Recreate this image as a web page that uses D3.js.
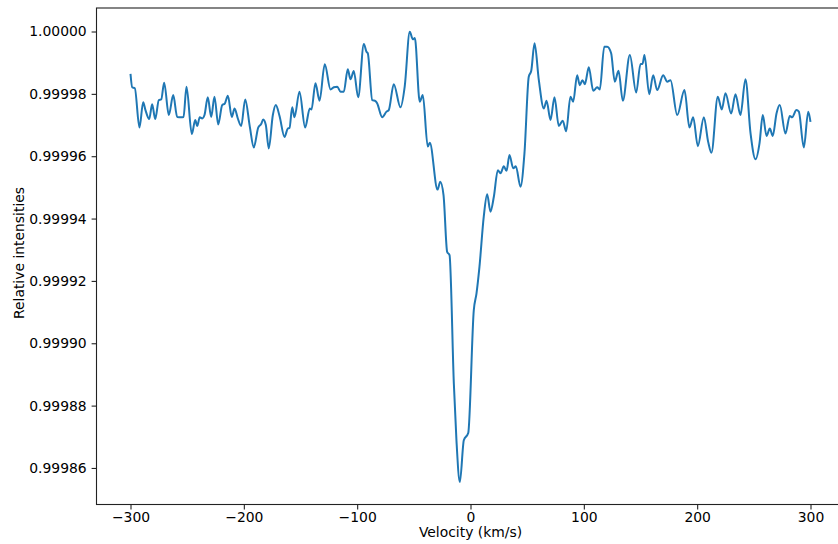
<!DOCTYPE html>
<html>
<head>
<meta charset="utf-8">
<script src="https://cdn.jsdelivr.net/npm/d3@7"></script>
<style>
  html, body { margin: 0; padding: 0; background: #fff; }
  svg { display: block; }
  text { font-family: "DejaVu Sans", sans-serif; }
</style>
</head>
<body>
<svg id="chart" width="838" height="544"></svg>
<script>
const velocity = [
  -300, -298.5, -296.2, -292.1, -288.8, -286.8, -283.5, -280.9, -278.2, -275.0,
  -272.9, -270.3, -266.2, -262.3, -258.8, -255.3, -253.2, -250.6, -245.9, -242.9,
  -241.1, -238.9, -236.7, -234.7, -231.8, -228.8, -225.9, -222.6, -219.1, -216.8,
  -214.1, -210.6, -208.2, -205.3, -202.3, -198.8, -194.7, -191.2, -187.3, -184.7,
  -182.9, -180.6, -178.0, -174.4, -171.8, -168.5, -164.1, -161.2, -159.7, -157.3,
  -155.3, -150.9, -145.9, -141.8, -140.3, -136.8, -133.2, -128.6, -123.5, -120.6,
  -117.6, -114.7, -111.8, -108.3, -105.9, -103.0, -99.1, -94.1, -91.8, -90.6,
  -86.7, -83.8, -82.3, -77.9, -74.1, -72.1, -67.7, -61.8, -58.0, -53.6,
  -50.9, -49.1, -44.8, -42.1, -37.7, -35.9, -29.1, -26.7, -23.8, -20.6,
  -18.5, -14.7, -12.4, -9.4, -5.9, -2.0, 2.9, 5.3, 7.9, 11.7,
  14.7, 17.6, 20.6, 24.1, 26.5, 29.4, 31.8, 34.4, 37.7, 40.0,
  44.1, 47.6, 51.4, 53.6, 56.5, 60.3, 64.7, 67.1, 70.6, 74.1,
  77.9, 81.4, 84.4, 88.2, 90.6, 94.1, 96.4, 98.8, 100.9, 104.4,
  108.3, 111.8, 114.1, 118.0, 120.6, 124.1, 127.3, 130.6, 134.4, 140.6,
  146.2, 150.0, 151.8, 153.5, 157.7, 161.2, 164.7, 170.0, 173.6, 176.5,
  182.4, 188.8, 193.2, 196.5, 200.6, 205.9, 209.7, 212.6, 218.2, 221.7,
  225.0, 230.0, 233.8, 238.2, 242.6, 247.1, 251.5, 255.0, 257.9, 261.2,
  264.1, 266.7, 270.0, 272.9, 277.9, 281.7, 283.8, 287.6, 289.7, 294.1,
  298.0, 300.0
];
const intensity = [
  0.9999864, 0.9999821, 0.9999818, 0.9999692, 0.9999773, 0.9999748, 0.9999719, 0.9999767, 0.9999719, 0.9999780,
  0.9999782, 0.9999836, 0.9999732, 0.9999796, 0.9999726, 0.9999725, 0.9999726, 0.9999823, 0.9999671, 0.9999716,
  0.9999697, 0.9999725, 0.9999721, 0.9999732, 0.9999789, 0.9999726, 0.9999791, 0.9999702, 0.9999764, 0.9999769,
  0.9999794, 0.9999726, 0.9999753, 0.9999721, 0.9999697, 0.9999782, 0.9999694, 0.9999628, 0.9999692, 0.9999703,
  0.9999718, 0.9999700, 0.9999625, 0.9999732, 0.9999764, 0.9999729, 0.9999662, 0.9999689, 0.9999691, 0.9999757,
  0.9999725, 0.9999807, 0.9999692, 0.9999753, 0.9999750, 0.9999834, 0.9999778, 0.9999895, 0.9999814, 0.9999821,
  0.9999823, 0.9999807, 0.9999807, 0.9999879, 0.9999847, 0.9999873, 0.9999789, 0.9999960, 0.9999935, 0.9999930,
  0.9999780, 0.9999777, 0.9999769, 0.9999725, 0.9999743, 0.9999748, 0.9999831, 0.9999757, 0.9999825, 0.9999999,
  0.9999975, 0.9999979, 0.9999775, 0.9999796, 0.9999631, 0.9999643, 0.9999493, 0.9999518, 0.9999475, 0.9999293,
  0.9999283, 0.9998871, 0.9998689, 0.9998555, 0.9998689, 0.9998712, 0.9999106, 0.9999160, 0.9999245, 0.9999406,
  0.9999478, 0.9999422, 0.9999470, 0.9999555, 0.9999545, 0.9999568, 0.9999553, 0.9999604, 0.9999561, 0.9999568,
  0.9999502, 0.9999609, 0.9999855, 0.9999874, 0.9999962, 0.9999844, 0.9999753, 0.9999778, 0.9999716, 0.9999789,
  0.9999697, 0.9999714, 0.9999680, 0.9999791, 0.9999775, 0.9999860, 0.9999828, 0.9999844, 0.9999831, 0.9999885,
  0.9999810, 0.9999821, 0.9999814, 0.9999951, 0.9999951, 0.9999930, 0.9999839, 0.9999874, 0.9999778, 0.9999925,
  0.9999804, 0.9999896, 0.9999896, 0.9999925, 0.9999799, 0.9999860, 0.9999812, 0.9999860, 0.9999839, 0.9999844,
  0.9999732, 0.9999812, 0.9999692, 0.9999725, 0.9999632, 0.9999725, 0.9999646, 0.9999611, 0.9999791, 0.9999750,
  0.9999802, 0.9999737, 0.9999799, 0.9999732, 0.9999847, 0.9999673, 0.9999590, 0.9999641, 0.9999732, 0.9999665,
  0.9999689, 0.9999665, 0.9999737, 0.9999764, 0.9999673, 0.9999729, 0.9999725, 0.9999748, 0.9999743, 0.9999628,
  0.9999743, 0.9999710
];
const xTicks = [-300, -200, -100, 0, 100, 200, 300];
const yTicks = [0.99986, 0.99988, 0.99990, 0.99992, 0.99994, 0.99996, 0.99998, 1.00000];
const xLabel = "Velocity (km/s)";
const yLabel = "Relative intensities";

const svg = d3.select("#chart");
const plotLeft = 96.5, plotRight = 844.5, plotTop = 8, plotBottom = 504.5;
const fs = 13.9;
const tickLen = 4.9;

const x = d3.scaleLinear().domain([-330, 330]).range([plotLeft, plotRight]);
const y = d3.scaleLinear().domain([0.99984828, 1.00000754]).range([plotBottom, plotTop]);

const data = velocity.map((v, i) => [v, intensity[i]]);

svg.append("path")
  .datum(data)
  .attr("fill", "none")
  .attr("stroke", "#1f77b4")
  .attr("stroke-width", 2)
  .attr("stroke-linejoin", "round")
  .attr("d", d3.line().x(d => x(d[0])).y(d => y(d[1])).curve(d3.curveMonotoneX));

// spines
svg.append("rect")
  .attr("x", plotLeft).attr("y", plotTop)
  .attr("width", plotRight - plotLeft).attr("height", plotBottom - plotTop)
  .attr("fill", "none").attr("stroke", "#222").attr("stroke-width", 1.1);

const xAxis = svg.append("g")
  .attr("transform", `translate(0,${plotBottom})`)
  .call(d3.axisBottom(x).tickValues(xTicks).tickSizeInner(tickLen).tickSizeOuter(0).tickPadding(2.6)
    .tickFormat(d3.format("d")));
const yAxis = svg.append("g")
  .attr("transform", `translate(${plotLeft},0)`)
  .call(d3.axisLeft(y).tickValues(yTicks).tickSizeInner(tickLen).tickSizeOuter(0).tickPadding(4.9)
    .tickFormat(d3.format(".5f")));

[xAxis, yAxis].forEach(g => {
  g.select(".domain").remove();
  g.selectAll("line").attr("stroke", "#222").attr("stroke-width", 1.1);
  g.selectAll("text").attr("font-family", "DejaVu Sans, sans-serif").attr("font-size", fs).attr("fill", "#000");
});

svg.append("text")
  .attr("x", (plotLeft + plotRight) / 2).attr("y", 536.5)
  .attr("text-anchor", "middle").attr("font-size", fs).attr("fill", "#000")
  .text(xLabel);

svg.append("text")
  .attr("transform", `translate(24,253) rotate(-90)`)
  .attr("text-anchor", "middle").attr("font-size", fs).attr("fill", "#000")
  .text(yLabel);
</script>
</body>
</html>
